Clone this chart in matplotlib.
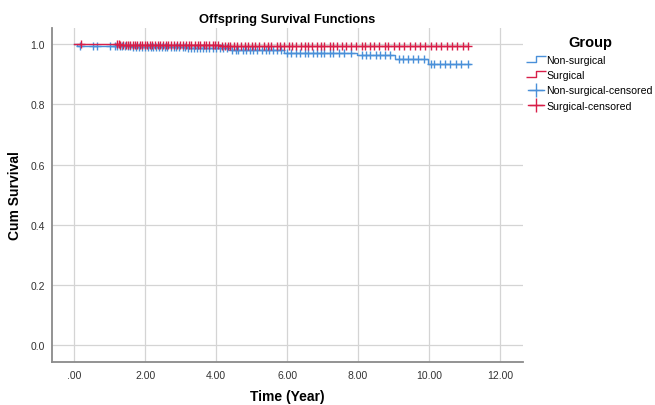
import matplotlib
matplotlib.use("Agg")
import matplotlib.pyplot as plt
import numpy as np
from matplotlib.lines import Line2D
from matplotlib.path import Path

plt.rcParams["font.family"] = ["Liberation Sans", "DejaVu Sans"]

# Kaplan-Meier step data
nonsurg_times = [0.0, 0.08, 1.6, 3.2, 4.4, 5.9, 7.97, 9.04, 9.97, 11.15]
nonsurg_surv = [1.0, 0.992, 0.989, 0.985, 0.979, 0.971, 0.965, 0.950, 0.932, 0.932]
surg_times = [0.0, 1.3, 4.1, 11.1]
surg_surv = [1.0, 0.997, 0.994, 0.994]

# censored observations (time in years)
nonsurg_censored = [
    0.17, 0.54, 0.64, 1.0, 1.15, 1.2, 1.28, 1.35, 1.42, 1.5, 1.58, 1.66, 1.75, 1.82, 1.9,
    2.0, 2.08, 2.15, 2.22, 2.3, 2.4, 2.48, 2.55, 2.62, 2.72, 2.8, 2.88, 2.95, 3.05, 3.12,
    3.2, 3.3, 3.38, 3.45, 3.55, 3.62, 3.7, 3.8, 3.9, 4.0, 4.1, 4.2, 4.3, 4.45, 4.55, 4.62,
    4.75, 4.85, 4.95, 5.05, 5.15, 5.3, 5.4, 5.5, 5.6, 5.72, 5.82, 6.0, 6.12, 6.25, 6.35,
    6.5, 6.6, 6.72, 6.85, 6.95, 7.05, 7.2, 7.3, 7.45, 7.6, 7.8, 8.1, 8.22, 8.35, 8.5,
    8.62, 8.75, 8.9, 9.15, 9.28, 9.4, 9.55, 9.7, 9.85, 10.05, 10.15, 10.3, 10.45, 10.6,
    10.75, 10.9, 11.1,
]
surg_censored = [
    0.2, 1.2, 1.25, 1.3, 1.38, 1.45, 1.5, 1.58, 1.65, 1.7, 1.78, 1.85, 1.92, 2.0, 2.05,
    2.12, 2.2, 2.28, 2.35, 2.42, 2.5, 2.58, 2.65, 2.72, 2.8, 2.9, 2.98, 3.05, 3.15, 3.22,
    3.3, 3.4, 3.48, 3.55, 3.65, 3.72, 3.8, 3.9, 3.97, 4.05, 4.15, 4.25, 4.32, 4.4, 4.5,
    4.58, 4.7, 4.8, 4.9, 5.0, 5.1, 5.2, 5.35, 5.45, 5.55, 5.7, 5.8, 5.9, 6.05, 6.15,
    6.25, 6.4, 6.5, 6.6, 6.7, 6.85, 6.95, 7.05, 7.2, 7.3, 7.4, 7.55, 7.65, 7.8, 7.95,
    8.1, 8.2, 8.35, 8.45, 8.6, 8.75, 8.85, 9.0, 9.15, 9.3, 9.45, 9.6, 9.75, 9.9, 10.05,
    10.2, 10.35, 10.5, 10.65, 10.8, 10.95, 11.1,
]

x_ticks = [0, 2, 4, 6, 8, 10, 12]
x_tick_labels = [".00", "2.00", "4.00", "6.00", "8.00", "10.00", "12.00"]
y_ticks = [0.0, 0.2, 0.4, 0.6, 0.8, 1.0]
y_tick_labels = ["0.0", "0.2", "0.4", "0.6", "0.8", "1.0"]

blue = "#4a90d9"
red = "#d81e48"


def surv_at(times, surv, t):
    idx = np.searchsorted(times, t, side="right") - 1
    return np.asarray(surv)[idx]


fig = plt.figure(figsize=(6.55, 4.06), dpi=100)
ax = fig.add_axes([52 / 655, 1 - 363 / 406, (523 - 52) / 655, (363 - 29) / 406])

ax.step(nonsurg_times, nonsurg_surv, where="post", color=blue, lw=1.0, zorder=3)
ax.step(surg_times, surg_surv, where="post", color=red, lw=1.0, zorder=4)
ax.plot(nonsurg_censored, surv_at(nonsurg_times, nonsurg_surv, nonsurg_censored),
        ls="none", marker="+", ms=6, mew=1.0, color=blue, zorder=3)
ax.plot(surg_censored, surv_at(surg_times, surg_surv, surg_censored),
        ls="none", marker="+", ms=6, mew=1.0, color=red, zorder=4)

ax.set_xlim(-0.63, 12.65)
ax.set_ylim(-0.055, 1.053)
ax.set_xticks(x_ticks)
ax.set_xticklabels(x_tick_labels)
ax.set_yticks(y_ticks)
ax.set_yticklabels(y_tick_labels)
ax.tick_params(length=0, labelsize=7.5, colors="#333333")
ax.tick_params(axis="x", pad=6)
ax.tick_params(axis="y", pad=5)
ax.grid(True, color="#d4d4d4", lw=0.9)
ax.set_axisbelow(True)

for side in ["top", "right"]:
    ax.spines[side].set_visible(False)
for side in ["left", "bottom"]:
    ax.spines[side].set_color("#8a8a8a")
    ax.spines[side].set_linewidth(1.3)

ax.set_title("Offspring Survival Functions", fontsize=9.3, fontweight="bold", pad=4)
ax.set_xlabel("Time (Year)", fontsize=10, fontweight="bold", labelpad=6)
ax.set_ylabel("Cum Survival", fontsize=10, fontweight="bold", labelpad=6)

step_marker = Path([(-1, -0.3), (0, -0.3), (0, 0.3), (1, 0.3)])
handles = [
    Line2D([], [], ls="none", marker=step_marker, ms=14, mfc="none", mew=1.0, color=blue),
    Line2D([], [], ls="none", marker=step_marker, ms=14, mfc="none", mew=1.0, color=red),
    Line2D([], [], color=blue, lw=1.0, marker="+", ms=10, mew=1.0),
    Line2D([], [], color=red, lw=1.0, marker="+", ms=10, mew=1.0),
]
labels = ["Non-surgical", "Surgical", "Non-surgical-censored", "Surgical-censored"]
leg = fig.legend(handles, labels, loc="upper left", bbox_to_anchor=(518 / 655, 1 - 27 / 406),
                 frameon=False, fontsize=7.6, title="Group", handlelength=1.6,
                 handletextpad=0.2, labelspacing=0.5)
leg.get_title().set_fontweight("bold")
leg.get_title().set_fontsize(10.5)

fig.savefig("out.png", dpi=100, facecolor="white")
